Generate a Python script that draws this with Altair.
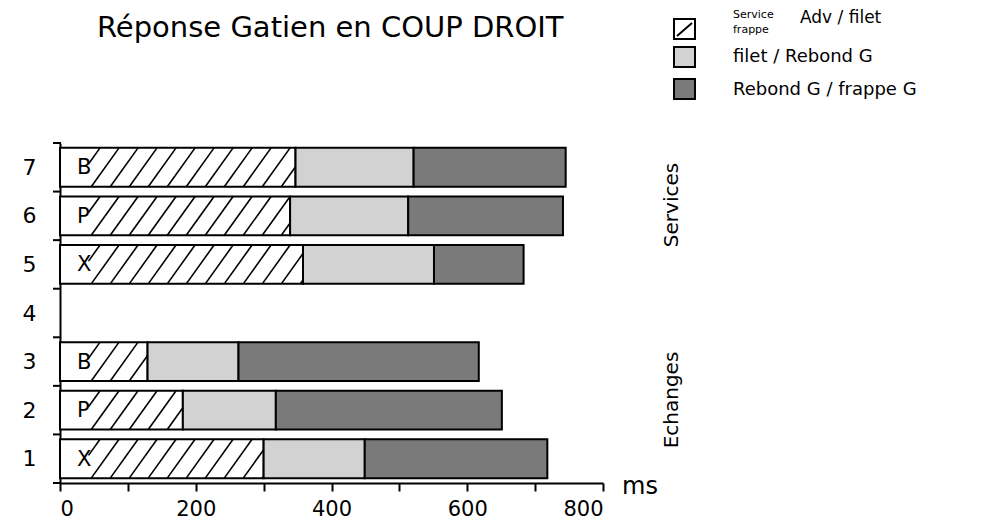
import altair as alt
import pandas as pd
import numpy as np

# ---- data ----
rows = [7, 6, 5, 3, 2, 1]
letters = ["B", "P", "X", "B", "P", "X"]
seg_names = ["Service frappe Adv / filet", "filet / Rebond G", "Rebond G / frappe G"]
seg1 = [347, 339, 358, 129, 181, 300]   # service/frappe adv -> filet
seg2 = [174, 174, 193, 134, 137, 149]   # filet -> rebond G
seg3 = [224, 228, 132, 354, 333, 269]   # rebond G -> frappe G
x_ticks = [0, 100, 200, 300, 400, 500, 600, 700, 800]
y_labels = [1, 2, 3, 4, 5, 6, 7]

FONT = "DejaVu Sans"
HALF = 0.4  # half bar thickness in row units

# ---- derived tables ----
recs = []
for r, a, b, c in zip(rows, seg1, seg2, seg3):
    bounds = [0, a, a + b, a + b + c]
    for k, name in enumerate(seg_names):
        recs.append({"row": r, "segment": name, "start": bounds[k], "end": bounds[k + 1],
                     "y0": r - HALF, "y1": r + HALF})
bars = pd.DataFrame(recs)

# hatching of the first segment
step, run, clear = 28.0, 41.0, 42.0
hrecs = []
for r, e in zip(rows, seg1):
    xb = 18.0
    while xb < e:
        t0 = max(0.0, (clear - xb) / run)
        t1 = min(1.0, (e - xb) / run)
        if t1 > t0:
            hrecs.append({"x": xb + run * t0, "x2": xb + run * t1,
                          "y": r - HALF + 2 * HALF * t0, "y2": r - HALF + 2 * HALF * t1})
        xb += step
hatch = pd.DataFrame(hrecs)

lab = pd.DataFrame({"row": rows, "letter": letters, "x": [0] * len(rows)})
ticks_y = pd.DataFrame({"b": [v - 0.5 for v in y_labels] + [y_labels[-1] + 0.5]})

xs = alt.Scale(domain=[0, 800], nice=False, zero=True)
ys = alt.Scale(domain=[0.5, 7.5], nice=False, zero=False)
XAX = alt.Axis(values=x_ticks, labelExpr="datum.value % 200 == 0 ? datum.label : ''",
               title=None, grid=False, tickSize=8, tickWidth=2, domainWidth=2,
               domainColor="black", tickColor="black", labelColor="black",
               labelFont=FONT, labelFontSize=21, labelPadding=7)
YAX = alt.Axis(values=y_labels, title=None, grid=False, ticks=False, domainWidth=2,
               domainColor="black", labelColor="black", labelFont=FONT,
               labelFontSize=22, labelPadding=24)

one = alt.Data(values=[{}])

bar_layer = alt.Chart(bars).mark_rect(stroke="black", strokeWidth=2).encode(
    x=alt.X("start:Q", scale=xs, axis=XAX),
    x2="end:Q",
    y=alt.Y("y0:Q", scale=ys, axis=YAX),
    y2="y1:Q",
    fill=alt.Fill("segment:N", scale=alt.Scale(domain=seg_names,
                  range=["#ffffff", "#d2d2d2", "#7a7a7a"]), legend=None),
)

hatch_layer = alt.Chart(hatch).mark_rule(color="black", strokeWidth=1.6).encode(
    x=alt.X("x:Q", scale=xs, axis=XAX), x2="x2:Q",
    y=alt.Y("y:Q", scale=ys, axis=YAX), y2="y2:Q",
)

letter_layer = alt.Chart(lab).mark_text(align="left", baseline="middle", dx=17, dy=1,
                                        font=FONT, fontSize=21, color="black").encode(
    x=alt.X("x:Q", scale=xs, axis=XAX),
    y=alt.Y("row:Q", scale=ys, axis=YAX),
    text="letter:N",
)

ytick_layer = alt.Chart(ticks_y).mark_rule(color="black", strokeWidth=2).encode(
    x=alt.value(-7), x2=alt.value(1),
    y=alt.Y("b:Q", scale=ys, axis=YAX),
)

def txt(s, x, y, size, angle=0, align="left", baseline="middle", **extra):
    kw = dict(align=align, baseline=baseline, font=FONT, fontSize=size, color="black", text=s)
    kw.update(extra)
    if angle:
        kw["angle"] = angle
    return alt.Chart(one).mark_text(**kw).encode(x=alt.value(x), y=alt.value(y))

def box(x, y, fill):
    return alt.Chart(one).mark_rect(fill=fill, stroke="black", strokeWidth=2).encode(
        x=alt.value(x), x2=alt.value(x + 21), y=alt.value(y), y2=alt.value(y + 20))

title = txt("Réponse Gatien en COUP DROIT", 37, -106, 29, baseline="alphabetic")
ms = txt("ms", 562, 344, 24)
services = txt("Services", 612, 62, 20, angle=270, align="center")
echanges = txt("Echanges", 612, 257, 20, angle=270, align="center")

leg = [
    box(614, -124, "#ffffff"),
    alt.Chart(one).mark_rule(color="black", strokeWidth=2).encode(
        x=alt.value(617), x2=alt.value(632), y=alt.value(-107), y2=alt.value(-120)),
    box(614, -96, "#d2d2d2"),
    box(614, -64, "#7a7a7a"),
    txt("Service", 673, -128, 11),
    txt("frappe", 673, -113, 11),
    txt("Adv / filet", 740, -125, 17),
    txt("filet / Rebond G", 673, -86, 18),
    txt("Rebond G / frappe G", 673, -53, 18),
]

chart = alt.layer(
    bar_layer, hatch_layer, letter_layer, ytick_layer,
    title, ms, services, echanges, *leg
).properties(
    width=543, height=340,
    padding={"left": 52, "top": 135, "right": 377, "bottom": 40},
    autosize=alt.AutoSizeParams(type="none"),
    background="white",
).configure_view(stroke=None)

chart.save("out.html", embed_options={"renderer": "svg", "actions": False})
